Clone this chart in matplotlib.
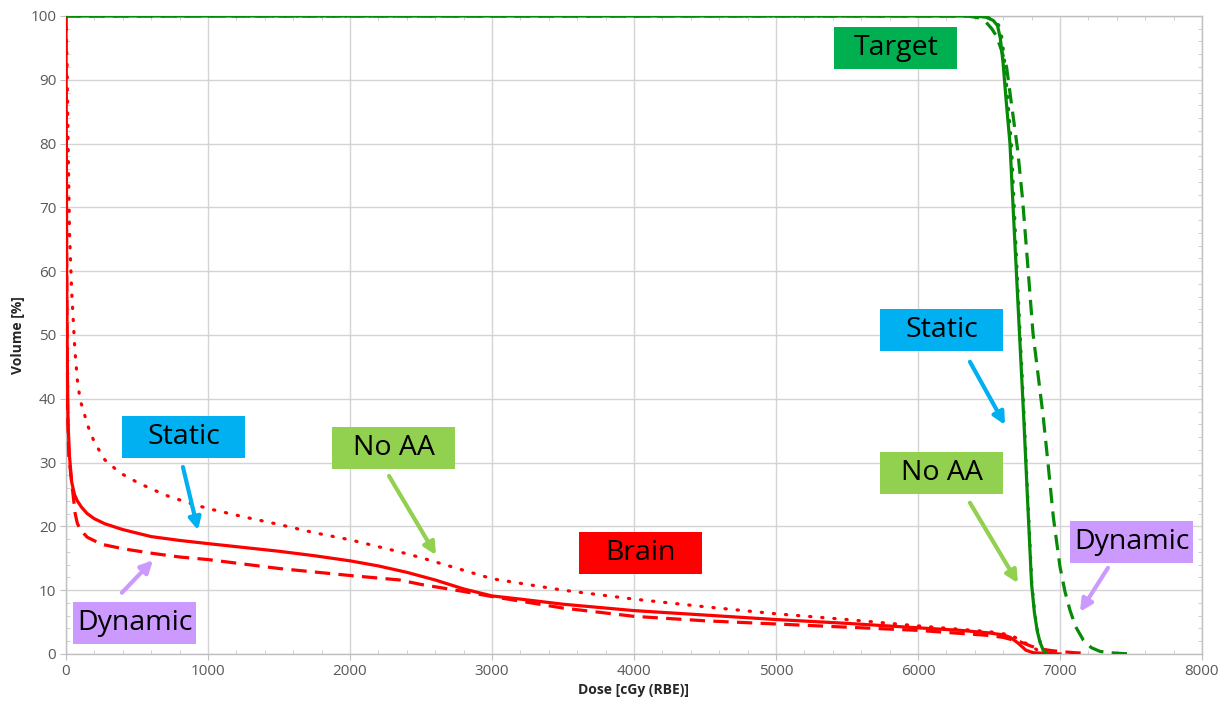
import matplotlib
matplotlib.use("Agg")
import matplotlib.pyplot as plt
from matplotlib.patches import Rectangle
from matplotlib.ticker import MultipleLocator

plt.rcParams['font.family'] = ['Open Sans', 'DejaVu Sans']

# Dose-volume histogram data: dose in cGy (RBE), volume in %
brain_static_dose = [0, 5, 10, 15, 25, 40, 60, 80, 110, 150, 200, 275, 400, 600, 800, 1000,
                     1250, 1500, 1750, 2000, 2200, 2400, 2600, 2800, 3000, 3200, 3500, 4000,
                     4500, 5000, 5500, 6000, 6300, 6500, 6600, 6650, 6700, 6760, 6810, 6900, 7000]
brain_static_vol = [100, 60, 45, 36, 31, 27, 25, 24, 23, 22, 21.2, 20.4, 19.5, 18.4, 17.8, 17.3,
                    16.7, 16.1, 15.4, 14.6, 13.8, 12.8, 11.6, 10.2, 9.1, 8.6, 7.8, 6.8,
                    6.1, 5.4, 4.8, 4.1, 3.7, 3.3, 3.0, 2.6, 1.8, 0.6, 0.2, 0.1, 0]

brain_dynamic_dose = [0, 5, 10, 20, 35, 50, 65, 80, 100, 150, 250, 400, 600, 800, 1000, 1500,
                      2000, 2350, 2500, 2800, 3000, 3500, 4000, 4500, 5000, 5500, 6000, 6500,
                      6600, 6720, 6800, 6860, 6950, 7000, 7100, 7200]
brain_dynamic_vol = [100, 60, 40, 31, 28, 25, 22, 20.5, 19.5, 18.3, 17.2, 16.5, 15.8, 15.2, 14.8, 13.4,
                     12.3, 11.6, 10.9, 9.8, 9.0, 7.2, 5.9, 5.2, 4.7, 4.2, 3.7, 2.9,
                     2.6, 1.9, 1.2, 0.8, 0.5, 0.4, 0.2, 0.1]

brain_noaa_dose = [0, 8, 15, 25, 40, 63, 80, 100, 157, 200, 275, 380, 510, 700, 860, 1000,
                   1250, 1500, 1750, 2000, 2350, 2500, 3000, 3500, 4000, 4500, 5000, 5500,
                   6000, 6500, 6650, 6750, 6850, 6950]
brain_noaa_vol = [100, 92, 80, 66, 57, 47.6, 43, 39.8, 35.6, 33.2, 30.4, 28.4, 26.8, 24.9, 23.7, 22.8,
                  21.5, 20.3, 19.0, 17.9, 16.0, 15.1, 11.8, 10.0, 8.6, 7.4, 6.3, 5.4,
                  4.4, 3.5, 3.0, 1.8, 0.5, 0]

target_static_dose = [0, 6400, 6480, 6530, 6560, 6580, 6600, 6620, 6648, 6670, 6695, 6720,
                      6745, 6770, 6800, 6820, 6840, 6860, 6882, 6910]
target_static_vol = [100, 100, 99.8, 99.3, 98.5, 96.5, 92.5, 87, 80, 70, 59, 48,
                     37, 25, 11, 6.5, 3.6, 1.8, 0.6, 0]

target_noaa_dose = [0, 6410, 6490, 6540, 6570, 6592, 6612, 6632, 6658, 6678, 6700, 6724,
                    6748, 6772, 6802, 6822, 6842, 6862, 6884, 6912]
target_noaa_vol = [100, 100, 99.8, 99.3, 98.5, 96.5, 92.5, 87, 80, 70, 59, 48,
                   37, 25, 11, 6.5, 3.6, 1.8, 0.6, 0]

target_dynamic_dose = [0, 6350, 6430, 6480, 6520, 6554, 6590, 6624, 6655, 6702, 6737, 6774,
                       6810, 6850, 6882, 6918, 6953, 7000, 7035, 7070, 7110, 7164, 7220,
                       7282, 7350, 7420, 7500]
target_dynamic_vol = [100, 100, 99.7, 99, 98, 96.8, 94.5, 92, 86.8, 79, 71.2, 60.7,
                      50.3, 43, 37.2, 29.4, 21.5, 13.7, 9.8, 6.9, 4.3, 2.2, 1.0,
                      0.4, 0.2, 0.1, 0]

x_ticks = [0, 1000, 2000, 3000, 4000, 5000, 6000, 7000, 8000]
y_ticks = [0, 10, 20, 30, 40, 50, 60, 70, 80, 90, 100]

RED = '#ff0000'
GREEN = '#078a07'
BLUE = '#00b0f0'
LIME = '#92d050'
LAVENDER = '#cc99ff'
TGREEN = '#00b050'

fig = plt.figure(figsize=(12.28, 7.07), dpi=100)
ax = fig.add_axes([0.0537, 0.075, 0.9251, 0.9024])

lw = 2.3
dash = (0, (4.8, 2.6))
dot = (0, (0.4, 3.4))

ax.plot(brain_noaa_dose, brain_noaa_vol, color=RED, lw=lw, linestyle=dot,
        dash_capstyle='round', zorder=3)
ax.plot(brain_dynamic_dose, brain_dynamic_vol, color=RED, lw=lw, linestyle=dash, zorder=3)
ax.plot(brain_static_dose, brain_static_vol, color=RED, lw=lw, zorder=4)

ax.plot(target_noaa_dose, target_noaa_vol, color=GREEN, lw=lw, linestyle=dot,
        dash_capstyle='round', zorder=3)
ax.plot(target_dynamic_dose, target_dynamic_vol, color=GREEN, lw=lw, linestyle=dash, zorder=3)
ax.plot(target_static_dose, target_static_vol, color=GREEN, lw=lw, zorder=4)

ax.set_xlim(0, 8000)
ax.set_ylim(0, 100)
ax.set_xticks(x_ticks)
ax.set_yticks(y_ticks)
ax.xaxis.set_minor_locator(MultipleLocator(200))
ax.yaxis.set_minor_locator(MultipleLocator(2))
ax.grid(True, which='major', color='#d4d4d4', lw=1.0, zorder=0)
ax.set_axisbelow(True)
for s in ax.spines.values():
    s.set_color('#bfbfbf')
    s.set_linewidth(1.0)
ax.tick_params(which='major', direction='out', length=4, color='#bfbfbf',
               labelsize=11, labelcolor='#595959', pad=3)
ax.tick_params(which='minor', direction='in', length=3, color='#c8c8c8',
               top=True, right=True)
ax.set_xlabel('Dose [cGy (RBE)]', fontsize=10, fontweight='bold', color='#262626', labelpad=3)
ax.set_ylabel('Volume [%]', fontsize=10, fontweight='bold', color='#262626', labelpad=4)

# Label boxes: (text, centre dose, centre volume, fill colour)
labels = [
    ('Target', 5845, 95.0, TGREEN),
    ('Static', 6169, 50.8, BLUE),
    ('No AA', 6169, 28.4, LIME),
    ('Dynamic', 7507, 17.6, LAVENDER),
    ('Static', 831, 34.0, BLUE),
    ('No AA', 2310, 32.3, LIME),
    ('Brain', 4049, 15.8, RED),
    ('Dynamic', 486, 4.9, LAVENDER),
]
box_w, box_h = 866, 6.6
for text, cx, cy, col in labels:
    ax.add_patch(Rectangle((cx - box_w / 2, cy - box_h / 2), box_w, box_h,
                           facecolor=col, edgecolor='none', zorder=5, clip_on=False))
    ax.text(cx, cy, text, ha='center', va='center', fontsize=20.5, color='black',
            family=['Open Sans', 'DejaVu Sans'], zorder=6)

# Arrows: (tail dose, tail volume, head dose, head volume, colour)
arrows = [
    (824, 29.3, 930, 19.4, BLUE),
    (394, 9.6, 613, 14.7, LAVENDER),
    (2275, 27.9, 2606, 15.5, LIME),
    (6366, 45.8, 6613, 35.9, BLUE),
    (6366, 23.7, 6704, 11.1, LIME),
    (7338, 13.5, 7141, 6.6, LAVENDER),
]
for x0, y0, x1, y1, col in arrows:
    ax.annotate('', xy=(x1, y1), xytext=(x0, y0),
                arrowprops=dict(arrowstyle='-|>', color=col, lw=3,
                                mutation_scale=18, shrinkA=0, shrinkB=0),
                zorder=6)

fig.savefig('out.png', dpi=100)
